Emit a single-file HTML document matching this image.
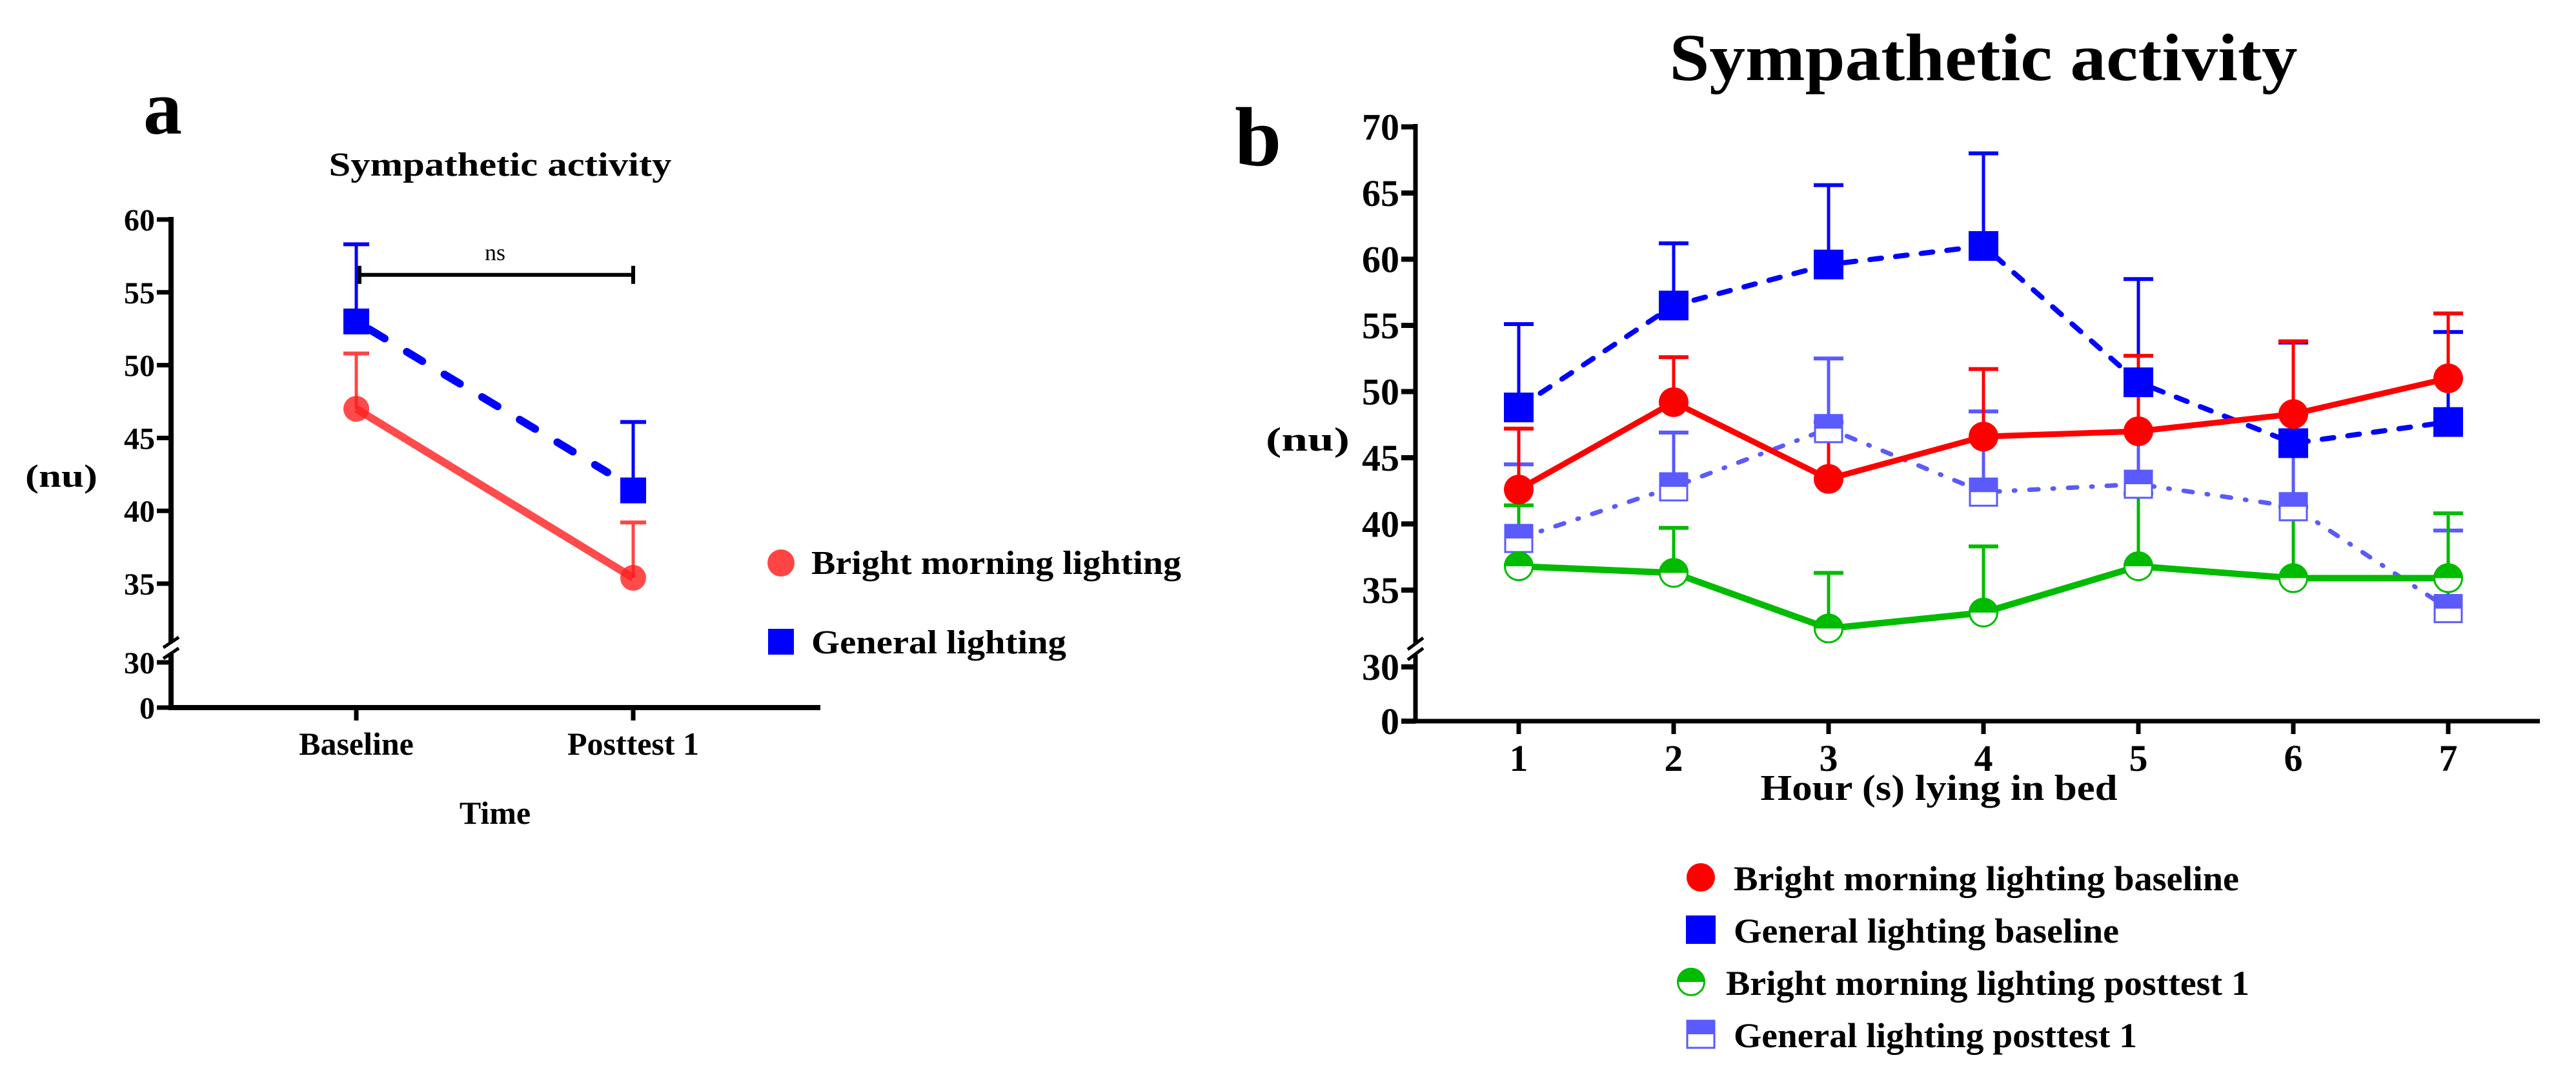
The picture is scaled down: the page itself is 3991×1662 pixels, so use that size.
<!DOCTYPE html>
<html><head><meta charset="utf-8"><style>
html,body{margin:0;padding:0;background:#fff;}
svg{display:block;}
text{font-family:"Liberation Serif",serif;font-weight:bold;fill:#000;}
</style></head><body>
<svg id="fig" width="3991" height="1662" viewBox="0 0 3991 1662" xmlns="http://www.w3.org/2000/svg">
<g id="pa"></g>
<g id="pb"></g>
</svg>
<script>
// ---------- Panel a data ----------
const aCategories = ["Baseline", "Posttest 1"];
const aBrightMean = [47.0, 35.4];
const aBrightErr = [50.8, 39.2];
const aGeneralMean = [53.0, 41.4];
const aGeneralErr = [58.3, 46.1];
const aTicks = [60, 55, 50, 45, 40, 35];
const aNsLevel = 56.2;

// ---------- Panel b data ----------
const bHours = [1, 2, 3, 4, 5, 6, 7];
const bBrightBase = [42.6, 49.2, 43.4, 46.6, 47.0, 48.3, 51.0];
const bBrightBaseErr = [47.2, 52.6, 47.7, 51.7, 52.7, 53.8, 55.9];
const bGeneralBase = [48.8, 56.5, 59.6, 61.0, 50.7, 46.1, 47.7];
const bGeneralBaseErr = [55.1, 61.2, 65.6, 68.0, 58.5, 53.7, 54.5];
const bBrightPost = [36.8, 36.3, 32.1, 33.3, 36.8, 35.9, 35.9];
const bBrightPostErr = [41.4, 39.7, 36.3, 38.3, 42.3, 41.3, 40.8];
const bGeneralPost = [38.9, 42.8, 47.2, 42.4, 43.0, 41.3, 33.6];
const bGeneralPostErr = [44.5, 46.9, 52.5, 48.5, 47.0, 46.0, 39.5];
const bTicks = [70, 65, 60, 55, 50, 45, 40, 35];

const NS = "http://www.w3.org/2000/svg";
function mk(parent, tag, attrs, txt) {
  const e = document.createElementNS(NS, tag);
  for (const k in attrs) e.setAttribute(k, attrs[k]);
  if (txt !== undefined) e.textContent = txt;
  parent.appendChild(e);
  return e;
}
const pa = document.getElementById("pa");
const pb = document.getElementById("pb");

// ================= Panel a =================
const aX0 = 265, aXEnd = 1271, aY0 = 1096;
function axa(i) { return 552 + i * 429; }
function aya(v) { return v >= 30.5 ? 340 + (60 - v) * 22.56 : 1096 - v * (70 / 30); }

let t;
t = mk(pa, "text", {x: 222, y: 207, "font-size": 120});
t.textContent = "a";


t = mk(pa, "text", {x: 775, y: 272, "font-size": 52, "text-anchor": "middle", textLength: 531, lengthAdjust: "spacingAndGlyphs"}, "Sympathetic activity");


t = mk(pa, "text", {x: 95, y: 754, "font-size": 50, "text-anchor": "middle", textLength: 112, lengthAdjust: "spacingAndGlyphs"}, "(nu)");



// axes
let ln = mk(pa, "path", {d: `M${aX0} 336 V${aY0} H${aXEnd}`, stroke: "#000", "stroke-width": 8, fill: "none"});


mk(pa, "rect", {x: aX0 - 10, y: 995, width: 20, height: 18, fill: "#fff"});
mk(pa, "line", {x1: aX0 - 12, y1: 1003, x2: aX0 + 12, y2: 987, stroke: "#000", "stroke-width": 5});
mk(pa, "line", {x1: aX0 - 12, y1: 1020, x2: aX0 + 12, y2: 1004, stroke: "#000", "stroke-width": 5});
aTicks.forEach(v => {
  const y = aya(v);
  mk(pa, "line", {x1: aX0 - 22, y1: y, x2: aX0, y2: y, stroke: "#000", "stroke-width": 7});
  const tl = mk(pa, "text", {x: 240, y: y + 17, "font-size": 48, "text-anchor": "end"}, String(v));
  
  
});
[[30, 1026], [0, 1096]].forEach(p => {
  mk(pa, "line", {x1: aX0 - 22, y1: p[1], x2: aX0, y2: p[1], stroke: "#000", "stroke-width": 7});
  const tl = mk(pa, "text", {x: 240, y: p[1] + 17, "font-size": 48, "text-anchor": "end"}, String(p[0]));
  
  
});
aCategories.forEach((c, i) => {
  const x = axa(i);
  mk(pa, "line", {x1: x, y1: aY0, x2: x, y2: aY0 + 20, stroke: "#000", "stroke-width": 7});
  const tl = mk(pa, "text", {x: x, y: 1169, "font-size": 50, "text-anchor": "middle"}, c);
  
  
});
t = mk(pa, "text", {x: 767, y: 1276, "font-size": 50, "text-anchor": "middle"}, "Time");



// ns bracket
const nsY = aya(aNsLevel);
let br = mk(pa, "path", {d: `M${axa(0) + 5} ${nsY - 14} V${nsY + 14} M${axa(0) + 5} ${nsY} H${axa(1)} M${axa(1)} ${nsY - 14} V${nsY + 14}`, stroke: "#000", "stroke-width": 6, fill: "none"});


t = mk(pa, "text", {x: 767, y: 403, "font-size": 36, "text-anchor": "middle", style: "font-weight:normal"}, "ns");



// error bars
function errBar(g, x, yTop, yMean, color, w, half) {
  mk(g, "line", {x1: x, y1: yMean, x2: x, y2: yTop, stroke: color, "stroke-width": w});
  const c = mk(g, "line", {x1: x - half, y1: yTop, x2: x + half, y2: yTop, stroke: color, "stroke-width": w + 1});
  
  
}
const redA = "rgba(255,30,30,0.8)";
aCategories.forEach((c, i) => {
  errBar(pa, axa(i), aya(aBrightErr[i]), aya(aBrightMean[i]), "#ff4444", 5, 20);
  errBar(pa, axa(i), aya(aGeneralErr[i]), aya(aGeneralMean[i]), "#0000ff", 5, 20);
});
let lineA1 = mk(pa, "line", {x1: axa(0), y1: aya(aBrightMean[0]), x2: axa(1), y2: aya(aBrightMean[1]), stroke: redA, "stroke-width": 12});


let lineA2 = mk(pa, "line", {x1: axa(0) + 20, y1: aya(aGeneralMean[0]) + 12, x2: axa(1) - 40, y2: aya(aGeneralMean[1]) - 28, stroke: "#0000ff", "stroke-width": 12, "stroke-dasharray": "28 40", "stroke-linecap": "round"});


aCategories.forEach((c, i) => {
  const m = mk(pa, "circle", {cx: axa(i), cy: aya(aBrightMean[i]), r: 20, fill: redA});
  
  
  const s = mk(pa, "rect", {x: axa(i) - 20, y: aya(aGeneralMean[i]) - 20, width: 40, height: 40, fill: "#0000ff"});
  
  
});
// legend a
let lg = mk(pa, "g", {});


mk(lg, "circle", {cx: 1210, cy: 872, r: 21, fill: "#ff4444"});
t = mk(lg, "text", {x: 1257, y: 889, "font-size": 52, textLength: 573, lengthAdjust: "spacingAndGlyphs"}, "Bright morning lighting");


mk(lg, "rect", {x: 1190, y: 974, width: 40, height: 40, fill: "#0000ff"});
t = mk(lg, "text", {x: 1257, y: 1012, "font-size": 52, textLength: 395, lengthAdjust: "spacingAndGlyphs"}, "General lighting");



// ================= Panel b =================
const bX0 = 2193, bXEnd = 3935, bY0 = 1117;
function bx(h) { return 2353 + (h - 1) * 240; }
function by(v) { return v >= 30 ? 914 - (v - 35) * 20.5 : 1117 - v * (84 / 30); }

t = mk(pb, "text", {x: 3073, y: 124, "font-size": 104, "text-anchor": "middle", textLength: 973, lengthAdjust: "spacingAndGlyphs"}, "Sympathetic activity");


t = mk(pb, "text", {x: 1913, y: 256, "font-size": 130}, "b");


t = mk(pb, "text", {x: 2026, y: 698, "font-size": 52, "text-anchor": "middle", textLength: 130, lengthAdjust: "spacingAndGlyphs"}, "(nu)");



ln = mk(pb, "path", {d: `M${bX0} 192 V${bY0} H${bXEnd}`, stroke: "#000", "stroke-width": 7, fill: "none"});


mk(pb, "rect", {x: bX0 - 10, y: 998, width: 20, height: 16, fill: "#fff"});
mk(pb, "line", {x1: bX0 - 12, y1: 1006, x2: bX0 + 12, y2: 988, stroke: "#000", "stroke-width": 5});
mk(pb, "line", {x1: bX0 - 12, y1: 1022, x2: bX0 + 12, y2: 1004, stroke: "#000", "stroke-width": 5});
bTicks.forEach(v => {
  const y = by(v);
  mk(pb, "line", {x1: bX0 - 22, y1: y, x2: bX0, y2: y, stroke: "#000", "stroke-width": 8});
  const tl = mk(pb, "text", {x: 2168, y: y + 20, "font-size": 58, "text-anchor": "end"}, String(v));
  
  
});
[[30, 1033], [0, 1117]].forEach(p => {
  mk(pb, "line", {x1: bX0 - 22, y1: p[1], x2: bX0, y2: p[1], stroke: "#000", "stroke-width": 8});
  const tl = mk(pb, "text", {x: 2168, y: p[1] + 20, "font-size": 58, "text-anchor": "end"}, String(p[0]));
  
  
});
bHours.forEach(h => {
  const x = bx(h);
  mk(pb, "line", {x1: x, y1: bY0, x2: x, y2: bY0 + 20, stroke: "#000", "stroke-width": 7});
  const tl = mk(pb, "text", {x: x, y: 1194, "font-size": 58, "text-anchor": "middle"}, String(h));
  
  
});
t = mk(pb, "text", {x: 3004, y: 1239, "font-size": 56, "text-anchor": "middle", textLength: 553, lengthAdjust: "spacingAndGlyphs"}, "Hour (s) lying in bed");



const cRed = "#ff0000", cBlue = "#0000ff", cGreen = "#00bb00", cLb = "#5a5aff";
bHours.forEach((h, i) => {
  const x = bx(h);
  errBar(pb, x, by(bGeneralPostErr[i]), by(bGeneralPost[i]), cLb, 5, 23);
  errBar(pb, x, by(bBrightPostErr[i]), by(bBrightPost[i]), cGreen, 5, 23);
  errBar(pb, x, by(bGeneralBaseErr[i]), by(bGeneralBase[i]), cBlue, 5, 23);
  errBar(pb, x, by(bBrightBaseErr[i]), by(bBrightBase[i]), cRed, 5, 23);
});
function pts(arr) { return bHours.map((h, i) => `${bx(h)},${by(arr[i])}`).join(" "); }
let pl;
pl = mk(pb, "polyline", {points: pts(bGeneralPost), fill: "none", stroke: cLb, "stroke-width": 7, "stroke-dasharray": "14 22 2 22", "stroke-linecap": "round"});


pl = mk(pb, "polyline", {points: pts(bGeneralBase), fill: "none", stroke: cBlue, "stroke-width": 8, "stroke-dasharray": "18 22", "stroke-linecap": "round"});


pl = mk(pb, "polyline", {points: pts(bBrightPost), fill: "none", stroke: cGreen, "stroke-width": 10});


pl = mk(pb, "polyline", {points: pts(bBrightBase), fill: "none", stroke: cRed, "stroke-width": 9});



function halfSquare(g, x, y, s, color) {
  mk(g, "rect", {x: x - s / 2 + 1.5, y: y - s / 2 + 1.5, width: s - 3, height: s - 3, fill: "#fff", stroke: color, "stroke-width": 3});
  return mk(g, "rect", {x: x - s / 2, y: y - s / 2, width: s, height: s / 2, fill: color});
}
function halfCircle(g, x, y, r, color) {
  mk(g, "circle", {cx: x, cy: y, r: r - 1.5, fill: "#fff", stroke: color, "stroke-width": 3});
  return mk(g, "path", {d: `M${x - r} ${y} A${r} ${r} 0 0 1 ${x + r} ${y} Z`, fill: color});
}
bHours.forEach((h, i) => {
  const x = bx(h);
  let m = halfSquare(pb, x, by(bGeneralPost[i]), 45, cLb);
  
  
  m = halfCircle(pb, x, by(bBrightPost[i]), 23, cGreen);
  
  
  m = mk(pb, "rect", {x: x - 23, y: by(bGeneralBase[i]) - 23, width: 46, height: 46, fill: cBlue});
  
  
  m = mk(pb, "circle", {cx: x, cy: by(bBrightBase[i]), r: 23, fill: cRed});
  
  
});
// legend b
lg = mk(pb, "g", {});


mk(lg, "circle", {cx: 2635, cy: 1359, r: 22, fill: cRed});
t = mk(lg, "text", {x: 2686, y: 1379, "font-size": 54, textLength: 783, lengthAdjust: "spacingAndGlyphs"}, "Bright morning lighting baseline");


mk(lg, "rect", {x: 2612, y: 1418, width: 46, height: 44, fill: cBlue});
t = mk(lg, "text", {x: 2686, y: 1460, "font-size": 54, textLength: 597, lengthAdjust: "spacingAndGlyphs"}, "General lighting baseline");


halfCircle(lg, 2620, 1521, 22, cGreen);
t = mk(lg, "text", {x: 2674, y: 1541, "font-size": 54, textLength: 811, lengthAdjust: "spacingAndGlyphs"}, "Bright morning lighting posttest 1");


halfSquare(lg, 2635, 1602, 45, cLb);
t = mk(lg, "text", {x: 2686, y: 1622, "font-size": 54, textLength: 625, lengthAdjust: "spacingAndGlyphs"}, "General lighting posttest 1");


</script>
</body></html>
